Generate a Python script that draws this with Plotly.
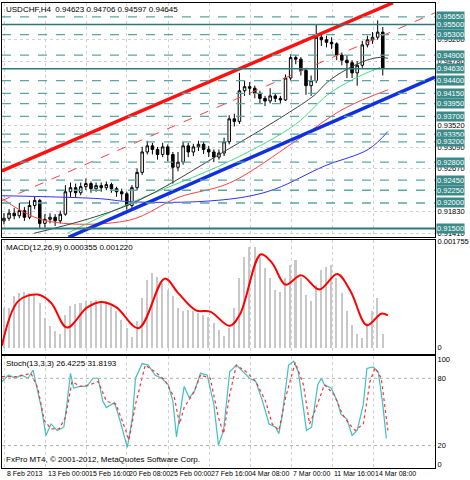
import plotly.graph_objects as go

FONT = "Liberation Sans"
# ---- data (x in candle index units) ----
closes = [.9170,.9180,.9175,.9185,.9172,.9195,.9205,.9160,.9168,.9172,.9165,.9178,.9222,.9230,.9220,.9232,.9238,.9228,.9234,.9230,
          .9236,.9228,.9222,.9218,.9195,.9230,.9260,.9300,.9312,.9305,.9295,.9310,.9295,.9270,.9280,.9312,.9300,.9310,.9315,.9305,
          .9300,.9290,.9298,.9320,.9365,.9360,.9420,.9428,.9425,.9415,.9405,.9400,.9410,.9405,.9402,.9445,.9485,.9482,.9460,.9430,
          .9440,.9525,.9520,.9515,.9512,.9490,.9480,.9475,.9455,.9470,.9510,.9520,.9525,.9535,.94645]
opens = [.9165] + closes[:-1]
highs = [.9180,.9188,.9190,.9200,.9192,.9205,.9212,.9208,.9178,.9180,.9178,.9185,.9235,.9240,.9238,.9240,.9248,.9242,.9240,.9240,
         .9242,.9240,.9232,.9228,.9222,.9235,.9268,.9310,.9322,.9318,.9310,.9318,.9315,.9300,.9300,.9320,.9318,.9316,.9322,.9320,
         .9312,.9305,.9305,.9328,.9372,.9375,.9455,.9440,.9437,.9430,.9420,.9410,.9425,.9415,.9410,.9452,.9492,.9490,.9486,.9465,
         .9450,.9550,.9535,.9528,.9525,.9515,.9495,.9490,.9480,.9478,.9518,.9528,.9535,.9558,.9545]
lows = [.9158,.9165,.9168,.9170,.9165,.9168,.9188,.9150,.9152,.9160,.9155,.9160,.9175,.9212,.9210,.9215,.9225,.9220,.9222,.9222,
        .9225,.9220,.9212,.9205,.9187,.9190,.9225,.9255,.9295,.9295,.9285,.9290,.9282,.9238,.9262,.9275,.9290,.9292,.9302,.9296,
        .9290,.9280,.9285,.9292,.9315,.9350,.9355,.9410,.9412,.9405,.9395,.9390,.9395,.9398,.9395,.9400,.9440,.9472,.9450,.9412,
        .9410,.9435,.9508,.9505,.9502,.9480,.9470,.9445,.9445,.9430,.9465,.9505,.9512,.9520,.9450]

ma_black_x = [5.9,24.4,44.1,55.0,60.7,63.2,67.0,70.8,73.5,75.0]
ma_black_y = [.91406,.91965,.93073,.93731,.94119,.94371,.94623,.94797,.94855,.94836]
ma_green_x = [12.4,24.4,44.1,56.9,63.2,68.3,73.5]
ma_green_y = [.91406,.91987,.92821,.93538,.94119,.94429,.94662]
ma_red_x = [-0.4,7.8,24.4,34.0,44.1,56.9,66.4,75.0]
ma_red_y = [.92087,.91661,.91661,.92107,.92394,.93208,.93848,.94219]
ma_blue_x = [-0.4,18.7,24.4,37.8,47.3,53.1,62.6,71.2,75.0]
ma_blue_y = [.92142,.92084,.92026,.92026,.92123,.92278,.92724,.93053,.93402]

chan_red_x = [-0.4, 76.0]; chan_red_y = [.92627, .95926]
chan_dash_x = [-0.4, 84.2]; chan_dash_y = [.92045, .95728]
chan_blue_x = [12.6, 84.2]; chan_blue_y = [.91328, .94468]

levels_dash = [.9565,.9530,.9490,.9440,.9415,.9395,.9370,.9335,.9320,.9280,.9245,.9225,.9200]
levels_solid = [.9550,.9463,.9150]
plain_ticks = [.9520,.9478,.9352,.9309,.9267,.9183,.9141]

macd_hist = [.000662,.000662,.000853,.000908,.000924,.000908,.000880,.000744,.000497,.000361,.000279,.000224,.000552,.000689,.000727,
             .000744,.000771,.000782,.000798,.000782,.000771,.000689,.000607,.000470,.000333,.000180,.000443,.000826,.001126,.001236,
             .001181,.001072,.000962,.000853,.000662,.000618,.000634,.000618,.000580,.000552,.000508,.000415,.000306,.000197,.000333,
             .000662,.001154,.001509,.001673,.001673,.001509,.001318,.001154,.000962,.000935,.001154,.001372,.001454,.001154,.000880,
             .000771,.001044,.001290,.001345,.001372,.001154,.000908,.000607,.000388,.000224,.000169,.000415,.000607,.000826,.000224]
macd_sig_x = [-0.4,2.8,6.6,9.2,12.3,16.2,18.7,21.9,26.3,31.4,34.0,37.5,40.3,44.1,46.1,50.2,52.4,55.0,58.1,61.6,65.1,67.7,70.9,73.7,75.0]
macd_sig_y = [.000033,.000771,.000880,.000744,.000333,.000662,.000754,.000672,.000323,.001143,.000908,.000618,.000596,.000361,.000552,
              .001547,.001400,.001044,.001197,.000962,.001219,.000935,.000372,.000563,.000536]

st_main_x = [-0.4,0.9,2.2,3.4,4.7,5.7,6.3,7.3,8.2,9.2,10.4,11.7,12.3,13.0,13.6,14.9,16.2,17.4,18.4,19.3,20.0,21.6,22.5,23.5,24.1,25.1,25.7,
             27.0,28.2,29.5,30.8,32.1,33.0,33.7,34.3,35.2,36.2,37.2,38.4,39.7,41.0,41.9,42.9,44.1,45.4,46.7,48.0,49.2,50.5,51.8,53.1,53.7,
             54.3,55.6,56.6,57.5,58.5,59.1,60.1,61.3,62.0,62.6,63.9,65.1,65.8,67.0,68.0,69.0,70.2,70.9,72.1,73.1,74.0,74.7]
st_main_y = [77.2,83.0,80.1,83.0,80.1,87.4,74.3,53.9,29.1,39.3,33.5,36.4,56.8,84.5,71.4,72.8,72.8,80.1,80.1,59.7,53.9,58.3,45.1,27.7,18.4,45.1,80.1,
             93.2,91.8,83.0,80.1,74.3,59.7,27.7,45.1,72.8,62.6,68.5,84.5,83.0,56.8,20.4,33.5,85.9,91.8,85.9,80.1,77.2,59.7,39.3,36.4,30.6,
             45.1,91.8,95.3,85.9,53.9,33.5,36.4,74.3,80.1,74.3,71.4,59.7,48.1,43.7,29.1,33.5,56.8,88.8,90.3,85.9,56.8,26.2]
st_sig_x = [-0.4,2.8,5.3,6.6,7.9,9.2,10.8,12.0,13.3,14.9,16.8,18.4,20.0,21.9,23.8,24.4,25.7,27.6,29.5,31.4,33.3,34.3,35.2,37.2,38.4,40.3,41.9,
            42.9,44.1,45.4,47.3,49.2,51.1,52.4,53.7,55.0,56.9,58.5,59.7,61.0,62.6,64.5,66.1,67.4,68.6,70.2,71.5,72.5,73.7,75.0]
st_sig_y = [81.6,81.6,84.5,71.4,42.2,35.0,35.0,45.1,77.2,72.8,74.3,77.2,59.7,56.8,33.5,24.8,56.8,91.8,85.9,78.6,62.6,39.3,53.9,68.5,83.0,80.1,45.1,
            30.6,65.5,91.8,85.9,77.2,59.7,39.3,33.5,62.6,94.1,74.3,39.3,53.9,74.3,65.5,48.1,39.3,33.5,39.3,77.2,89.4,80.1,33.5]

xtick_pos = [0.2,8.2,16.2,24.0,32.1,40.1,48.1,56.1,64.1,72.1]
xtick_lab = ["8 Feb 2013","13 Feb 00:00","15 Feb 16:00","20 Feb 08:00","25 Feb 00:00","27 Feb 16:00",
             "4 Mar 08:00","7 Mar 00:00","11 Mar 16:00","14 Mar 08:00"]

# ---- figure ----
fig = go.Figure()
fig.add_trace(go.Candlestick(x=list(range(len(closes))), open=opens, high=highs, low=lows, close=closes,
    increasing=dict(line=dict(color="black", width=1), fillcolor="white"),
    decreasing=dict(line=dict(color="black", width=1), fillcolor="black"),
    whiskerwidth=0, xaxis="x", yaxis="y", showlegend=False))
for xs, ys, c, w, d in [(ma_blue_x, ma_blue_y, "#3030ff", 1, "solid"), (ma_red_x, ma_red_y, "#ff4040", 1, "solid"),
                        (ma_green_x, ma_green_y, "#40e080", 1, "solid"), (ma_black_x, ma_black_y, "#404040", 1, "solid"),
                        (chan_dash_x, chan_dash_y, "#ff4040", 1, "dash"),
                        (chan_red_x, chan_red_y, "#ff1010", 3.5, "solid"), (chan_blue_x, chan_blue_y, "#1030e0", 3.5, "solid")]:
    fig.add_trace(go.Scatter(x=xs, y=ys, mode="lines", line=dict(color=c, width=w, dash=d, shape="spline"),
                             xaxis="x", yaxis="y", showlegend=False, hoverinfo="skip"))
fig.add_trace(go.Bar(x=list(range(len(macd_hist))), y=macd_hist, marker=dict(color="#c8c8c8", line=dict(width=0)),
                     width=0.3, xaxis="x2", yaxis="y2", showlegend=False))
fig.add_trace(go.Scatter(x=macd_sig_x, y=macd_sig_y, mode="lines", line=dict(color="#ff0000", width=2, shape="spline"),
                         xaxis="x2", yaxis="y2", showlegend=False))
fig.add_trace(go.Scatter(x=st_main_x, y=st_main_y, mode="lines", line=dict(color="#40c0c0", width=1.2),
                         xaxis="x3", yaxis="y3", showlegend=False))
fig.add_trace(go.Scatter(x=st_sig_x, y=st_sig_y, mode="lines", line=dict(color="#ff3030", width=1.2, dash="dot"),
                         xaxis="x3", yaxis="y3", showlegend=False))

shapes = []
for lv in levels_dash:
    shapes.append(dict(type="line", xref="x domain", yref="y", x0=0, x1=1, y0=lv, y1=lv,
                       line=dict(color="#5aa5a5", width=1.3, dash="dash")))
for lv in levels_solid:
    shapes.append(dict(type="line", xref="x domain", yref="y", x0=0, x1=1, y0=lv, y1=lv,
                       line=dict(color="#2a7a7a", width=2 if lv == .9150 else 1.5)))
for v in [20, 80]:
    shapes.append(dict(type="line", xref="x3 domain", yref="y3", x0=0, x1=1, y0=v, y1=v,
                       line=dict(color="#b0b0b0", width=1, dash="dot")))

ann = []
for lv in levels_dash + levels_solid:
    ann.append(dict(xref="paper", x=1.0, xanchor="left", xshift=1, yref="y", y=lv, text=f"{lv:.5f}", showarrow=False,
                    font=dict(family=FONT, size=7.5, color="white"), bgcolor="#3a8a8a", borderpad=0))
ann.append(dict(xref="paper", x=0.005, xanchor="left", yref="paper", y=1.0, yanchor="top",
                text="USDCHF,H4  0.94623 0.94706 0.94597 0.94645", showarrow=False, font=dict(family=FONT, size=8, color="black")))
ann.append(dict(xref="paper", x=0.005, xanchor="left", yref="y2 domain", y=0.99, yanchor="top",
                text="MACD(12,26,9) 0.000355 0.001220", showarrow=False, font=dict(family=FONT, size=8, color="black")))
ann.append(dict(xref="paper", x=0.005, xanchor="left", yref="y3 domain", y=0.99, yanchor="top",
                text="Stoch(13,3,3) 26.4225 31.8193", showarrow=False, font=dict(family=FONT, size=8, color="black")))
ann.append(dict(xref="paper", x=0.005, xanchor="left", yref="y3 domain", y=0.02, yanchor="bottom",
                text="FxPro MT4, © 2001-2012, MetaQuotes Software Corp.", showarrow=False, font=dict(family=FONT, size=8, color="black")))
for p, t in zip(xtick_pos, xtick_lab):
    ann.append(dict(xref="x3", x=p, xanchor="left", yref="paper", y=0, yanchor="top", yshift=0,
                    text=t, showarrow=False, font=dict(family=FONT, size=7, color="black")))

xcommon = dict(range=[-0.38, 84.2], showgrid=True, gridcolor="#d0d0d0", griddash="dot", tickvals=xtick_pos,
               showticklabels=False, zeroline=False, showline=True, linecolor="black", mirror=True, ticks="")
ycommon = dict(side="right", showgrid=True, gridcolor="#d0d0d0", griddash="dot", zeroline=False, showline=True,
               linecolor="black", mirror=True, ticks="", tickfont=dict(family=FONT, size=7.5, color="black"))
fig.update_layout(
    width=470, height=480, margin=dict(l=1, r=27, t=1, b=12), paper_bgcolor="white", plot_bgcolor="white",
    bargap=0, showlegend=False, shapes=shapes, annotations=ann,
    xaxis=dict(xcommon, domain=[0, 1], anchor="y", rangeslider=dict(visible=False)),
    xaxis2=dict(xcommon, domain=[0, 1], anchor="y2"),
    xaxis3=dict(xcommon, domain=[0, 1], anchor="y3"),
    yaxis=dict(ycommon, domain=[0.496, 1], range=[0.91326, 0.95921], tickvals=plain_ticks,
               ticktext=[f"{v:.5f}" for v in plain_ticks]),
    yaxis2=dict(ycommon, domain=[0.246, 0.491], range=[-0.0000984, 0.001788], tickvals=[0, 0.001755],
                ticktext=["0", "0.001755"], showgrid=False),
    yaxis3=dict(ycommon, domain=[0, 0.241], range=[0, 100], tickvals=[3, 20, 80, 97], ticktext=["0", "20", "80", "100"],
                showgrid=False),
)
fig.write_html("out.html", config={"displayModeBar": False},
               post_script="document.body.style.margin='0';document.body.style.overflow='hidden';")
